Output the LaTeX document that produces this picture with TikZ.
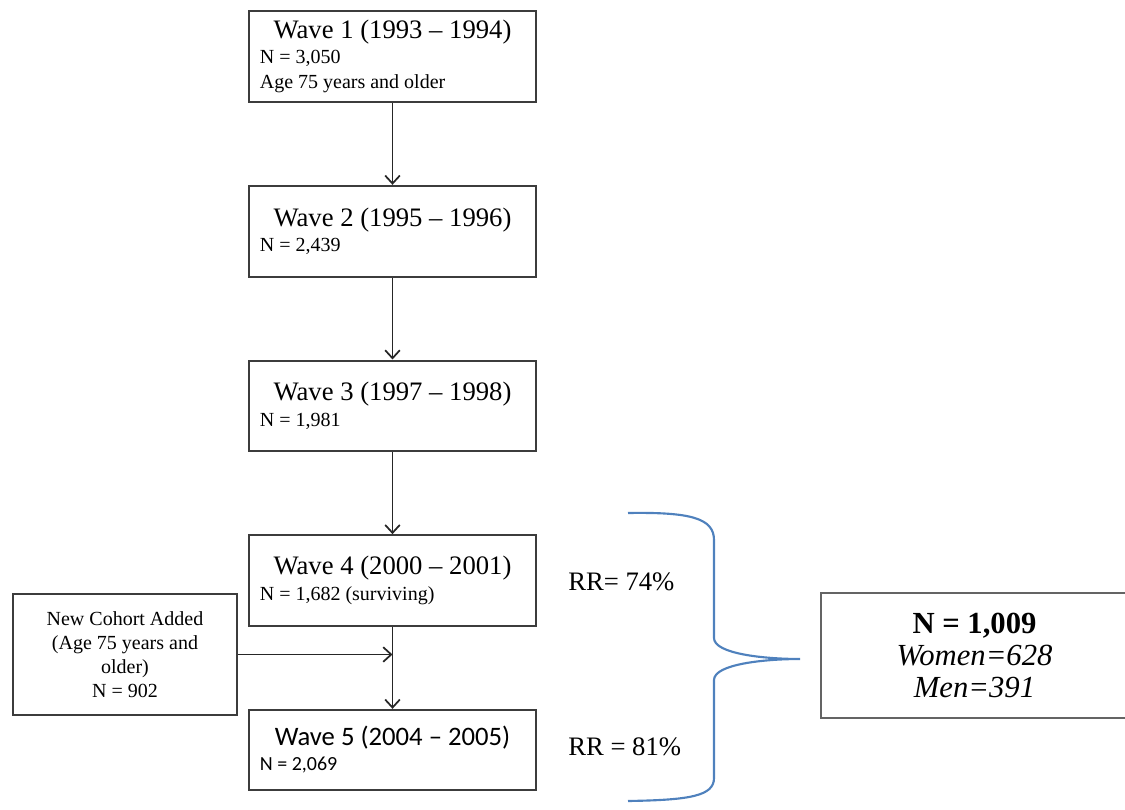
\documentclass[tikz,border=0pt]{standalone}
\usepackage{fontspec}
\setmainfont{Liberation Serif}
\newfontfamily\calibri{Carlito}
\usepackage{tikz}
\usetikzlibrary{positioning, arrows.meta}

\definecolor{boxline}{RGB}{60,60,60}
\definecolor{resline}{RGB}{100,100,100}
\definecolor{bracecol}{RGB}{79,129,189}

\newcommand{\wavefont}{\fontsize{20}{24}\selectfont}
\newcommand{\smallfont}{\fontsize{15}{19}\selectfont}
\newcommand{\wavetitle}[1]{\spaceskip=0pt\xspaceskip=0pt\relax\hfill{\wavefont #1}\hfill\null\\}

\begin{document}
\begin{tikzpicture}[
			x=0.75pt, y=-0.75pt,
			node distance=61.5pt,
			>={Straight Barb[length=6pt,width=11pt]},
			wavebox/.style={draw=boxline, line width=1.5pt, rectangle, text width=199pt, inner xsep=8pt, minimum height=68pt, font=\smallfont},
			cohortbox/.style={draw=boxline, line width=1.5pt, rectangle, minimum width=168pt, minimum height=91pt, align=center, font=\fontsize{15}{18}\selectfont},
			resbox/.style={draw=resline, line width=1.2pt, rectangle, minimum width=230pt, minimum height=94pt, align=center, font=\fontsize{23}{24}\selectfont},
			rrlabel/.style={anchor=base west, inner sep=0pt, font=\fontsize{20}{24}\selectfont},
			flow/.style={->, line width=1.3pt, black!85}
		]
		\useasboundingbox (0,0) rectangle (1125,810);

		\node[wavebox] (w1) at (392.5,56.5) {\wavetitle{Wave 1 (1993 – 1994)}N = 3,050\\Age 75 years and older};
		\node[wavebox, below=of w1] (w2) {\wavetitle{Wave 2 (1995 – 1996)}N = 2,439};
		\node[wavebox, below=of w2] (w3) {\wavetitle{Wave 3 (1997 – 1998)}N = 1,981};
		\node[wavebox, below=of w3] (w4) {\wavetitle{Wave 4 (2000 – 2001)}N = 1,682 (surviving)};
		\node[wavebox, minimum height=60pt, font=\calibri\smallfont, below=of w4] (w5) {\wavetitle{Wave 5 (2004 – 2005)}N = 2,069};

		\node[cohortbox] (cohort) at (125,654.5) {New Cohort Added\\(Age 75 years and\\older)\\N = 902};

		\node[rrlabel] (rr1) at (568,590) {RR= 74\%};
		\node[rrlabel] (rr2) at (568,755) {RR = 81\%};

		\node[resbox] (res) at (974.5,655.5) {\textbf{N = 1,009}\\\textit{Women=628}\\\textit{Men=391}};

		\draw[flow] (w1) -- (w2);
		\draw[flow] (w2) -- (w3);
		\draw[flow] (w3) -- (w4);
		\draw[flow] (w4) -- (w5);
		\draw[flow] (cohort.east) -- (cohort.east -| w4.south);

		% brace
		\draw[bracecol, line width=1.6pt] (628,513) .. controls (690,512) and (714,518) .. (714,540) -- (714,638) .. controls (714,654) and (765,659) .. (800,659) .. controls (765,659) and (714,664) .. (714,680) -- (714,778) .. controls (714,796) and (690,800) .. (628,801);
	\end{tikzpicture}
\end{document}
